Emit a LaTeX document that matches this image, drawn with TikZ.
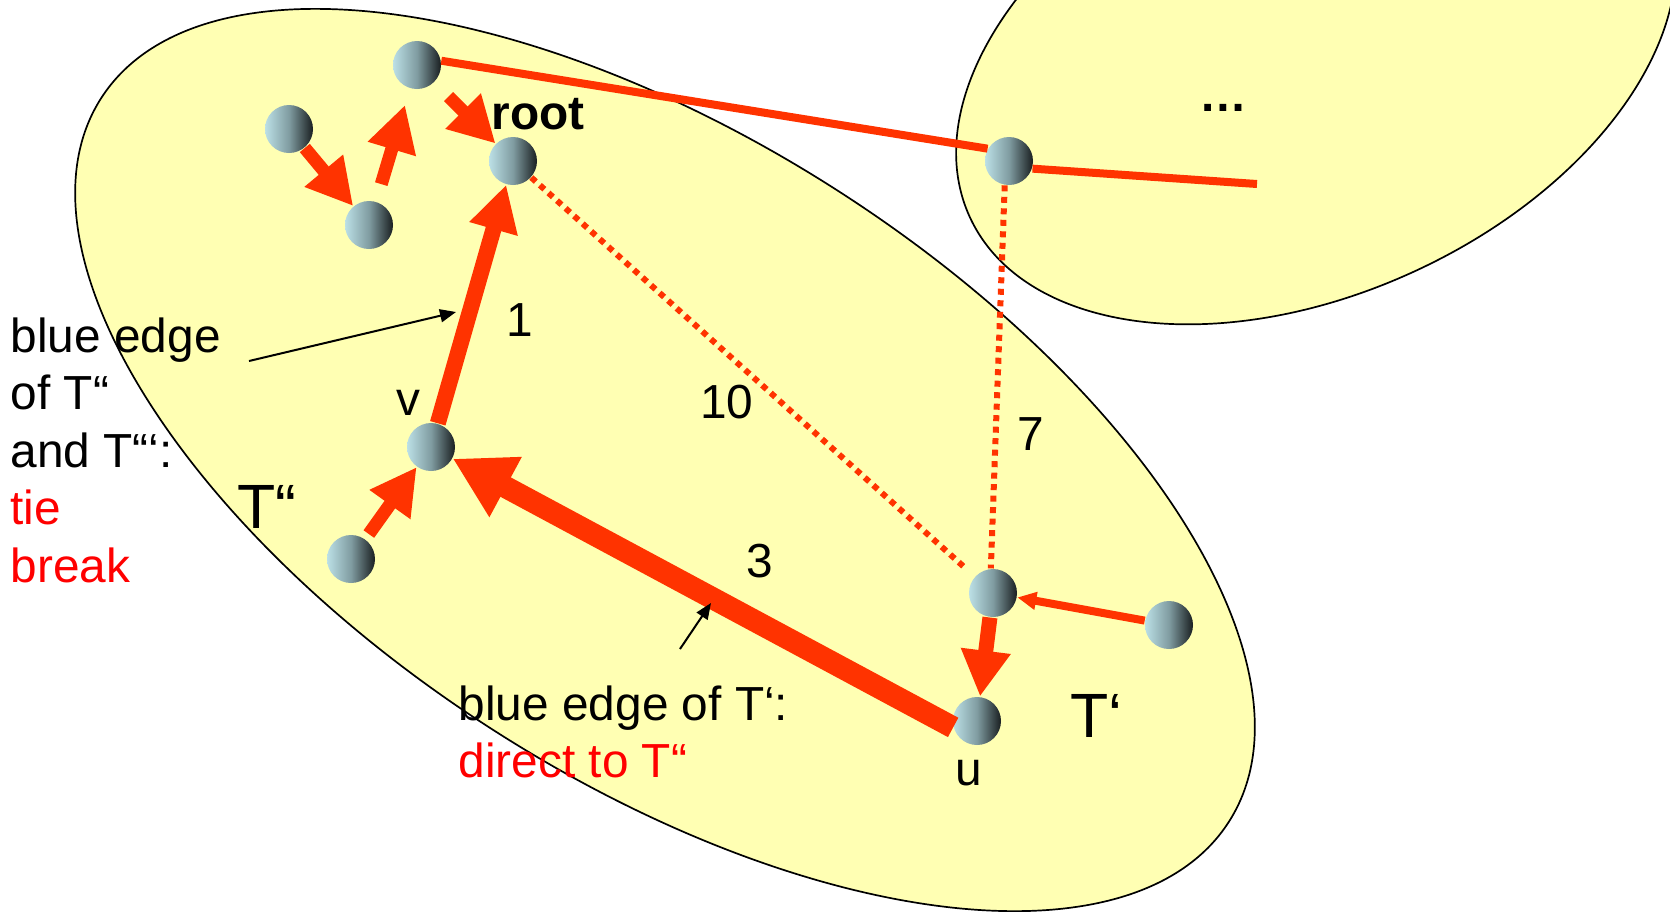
\documentclass[tikz,border=0pt]{standalone}
\usepackage{fontspec}
\setmainfont{Liberation Sans}
\usepackage{xcolor}
\usetikzlibrary{arrows.meta}

\definecolor{blobyellow}{RGB}{255,255,179}
\definecolor{edgeorange}{RGB}{255,51,0}
\definecolor{nodelight}{RGB}{188,224,230}
\definecolor{nodemid}{RGB}{128,156,161}
\definecolor{nodedark}{RGB}{25,30,32}
\definecolor{tiered}{RGB}{255,0,0}

\tikzset{
  tnode/.style={circle,minimum size=4.8mm,inner sep=0pt,left color=nodelight,right color=nodedark,middle color=nodemid},
  txt/.style={font=\fontsize{13.6}{16.4}\selectfont,inner sep=0pt},
  bigT/.style={font=\fontsize{17.8}{21}\selectfont,inner sep=0pt},
  fat/.style={draw=edgeorange,line width=1.3mm,-{Triangle[length=4.6mm,width=4.7mm]}},
  huge/.style={draw=edgeorange,line width=2.2mm,-{Triangle[length=6mm,width=6.4mm]}},
  slim/.style={draw=edgeorange,line width=0.8mm,-{Triangle[length=1.9mm,width=1.7mm]}},
  link/.style={draw=edgeorange,line width=0.8mm},
  dotlink/.style={draw=edgeorange,line width=0.6mm,dash pattern=on 0.6mm off 0.55mm},
  note/.style={draw=black,line width=0.2mm,-{Triangle[length=1.6mm,width=1.3mm]}},
  blob/.style={draw=black,line width=0.17mm,fill=blobyellow}
}

\begin{document}
\begin{tikzpicture}
        \useasboundingbox (0,0) rectangle (16.70,-9.11);
        \clip (0,0) rectangle (16.70,-9.11);

        \draw[blob,shift={(6.65,-4.60)},rotate=-32.7] (0,0) ellipse (6.70 and 3.20);
        \draw[blob,shift={(13.16,-0.58)},rotate=24.7] (0,0) ellipse (3.81 and 2.35);

        \node[tnode] (t1) at (4.17,-0.65) {};
        \node[tnode] (t2) at (2.89,-1.29) {};
        \node[tnode] (t3) at (3.69,-2.25) {};
        \node[tnode] (root) at (5.13,-1.61) {};
        \node[tnode] (v) at (4.31,-4.47) {};
        \node[tnode] (t4) at (3.51,-5.59) {};
        \node[tnode] (w) at (9.93,-5.93) {};
        \node[tnode] (u) at (9.77,-7.21) {};
        \node[tnode] (t5) at (11.69,-6.25) {};
        \node[tnode] (s1) at (10.09,-1.61) {};
        \coordinate (s2) at (12.57,-1.84);

        \draw[link] (t1.10) -- (s1.150);
        \draw[link] (s1.-18) -- (s2);
        \draw[dotlink,shorten >=1.1mm] (root) -- (w);
        \draw[dotlink] (s1.-100) -- (w.95);

        \draw[fat] (t2) -- (t3);
        \draw[fat,shorten <=1.8mm,shorten >=1.7mm] (t3) -- (t1);
        \draw[fat,shorten <=2mm] (t1) -- (root);
        \draw[fat,line width=1.6mm] (v) -- (root);
        \draw[fat,shorten <=0.6mm] (t4) -- (v);
        \draw[huge] (u.195) -- (v);
        \draw[fat,line width=1.5mm] (w) -- (u);
        \draw[slim] (t5) -- (w);

        \node[txt,anchor=base] (rootlbl) at (5.38,-1.29) {\textbf{root}};
        \node[txt] (w1) at (5.20,-3.20) {1};
        \node[txt] (w10) at (7.27,-4.02) {10};
        \node[txt] (w7) at (10.31,-4.34) {7};
        \node[txt] (w3) at (7.60,-5.61) {3};
        \node[txt] (vlbl) at (4.08,-4.03) {v};
        \node[txt] (ulbl) at (9.69,-7.73) {u};
        \node[bigT,anchor=base west] (tpp) at (2.37,-5.28) {T“};
        \node[bigT,anchor=base west] (tp) at (10.70,-7.37) {T‘};
        \node[txt] (dots) at (12.23,-1.08) {\textbf{…}};

        \node[txt,anchor=base west] (l1) at (0.10,-3.52) {blue edge};
        \node[txt,anchor=base west] (l2) at (0.10,-4.095) {of T“};
        \node[txt,anchor=base west] (l3) at (0.10,-4.67) {and T“‘:};
        \node[txt,anchor=base west,text=tiered] (l4) at (0.10,-5.245) {tie};
        \node[txt,anchor=base west,text=tiered] (l5) at (0.10,-5.82) {break};

        \node[txt,anchor=base west] (b1) at (4.58,-7.20) {blue edge of T‘:};
        \node[txt,anchor=base west,text=tiered] (b2) at (4.58,-7.77) {direct to T“};

        \coordinate (c1) at (2.49,-3.61);
        \coordinate (c2) at (4.56,-3.12);
        \coordinate (c3) at (6.80,-6.49);
        \coordinate (c4) at (7.11,-6.03);
        \draw[note] (c1) -- (c2);
        \draw[note] (c3) -- (c4);
    \end{tikzpicture}
\end{document}
